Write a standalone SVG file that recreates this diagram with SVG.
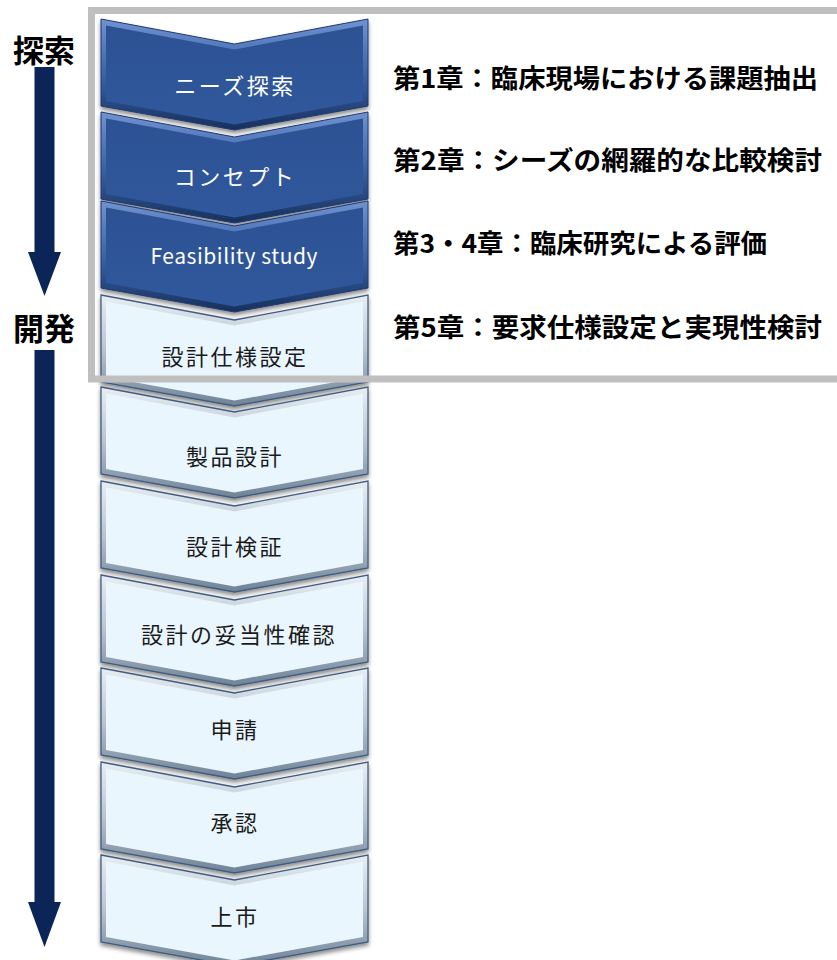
<svg xmlns="http://www.w3.org/2000/svg" xmlns:xlink="http://www.w3.org/1999/xlink" width="837" height="960" viewBox="0 0 837 960">
<style>
.lbl{font-family:"Noto Sans CJK JP","Noto Sans",sans-serif;font-size:22px;letter-spacing:2.5px;text-anchor:middle}
.w{fill:#ffffff}
.d{fill:#1a1a1a}
.ch{font-family:"Noto Sans CJK JP",sans-serif;font-weight:bold;font-size:26px;fill:#000}
.side{font-family:"Noto Sans CJK JP",sans-serif;font-weight:bold;font-size:31px;fill:#000}
.arr{fill:#0B2558}
</style>
<defs>
<linearGradient id="gBlueEdge" x1="0" y1="0" x2="0" y2="1">
<stop offset="0" stop-color="#7092D0"/>
<stop offset="0.5" stop-color="#3A63A8"/>
<stop offset="1" stop-color="#17305C"/>
</linearGradient>
<linearGradient id="gBlueIn" x1="0" y1="0" x2="0" y2="1">
<stop offset="0" stop-color="#2C5294"/>
<stop offset="1" stop-color="#30589C"/>
</linearGradient>
<linearGradient id="gLightEdge" x1="0" y1="0" x2="0" y2="1">
<stop offset="0" stop-color="#E8EEF3"/>
<stop offset="0.5" stop-color="#B7C3CE"/>
<stop offset="1" stop-color="#6F8296"/>
</linearGradient>
<filter id="sh" x="-10%" y="-10%" width="120%" height="130%">
<feDropShadow dx="0" dy="3" stdDeviation="2" flood-color="#000" flood-opacity="0.45"/>
</filter>
<path id="outer" d="M101,0 L234.5,25 L368,0 L368,87 L234.5,111 L101,87 Z"/>
<path id="inner" d="M106,6.5 L234.5,30.5 L363,6.5 L363,82 L234.5,105.5 L106,82 Z"/>
</defs>
<rect width="837" height="960" fill="#ffffff"/>

<g id="connectors">
<g id="arrow-explore">
<rect class="arr" x="34.5" y="67" width="20" height="186"/>
<polygon class="arr" points="28,252 61,252 44.5,296"/>
</g>
<g id="arrow-develop">
<rect class="arr" x="34.5" y="350" width="20" height="553"/>
<polygon class="arr" points="28,902 61,902 44.5,947"/>
</g>
</g>

<g id="label-explore"><text class="side" x="13" y="62">探索</text></g>
<g id="label-develop"><text class="side" x="13" y="340">開発</text></g>

<g id="node-needs" transform="translate(0,19)">
<use xlink:href="#outer" fill="url(#gBlueEdge)" stroke="#1E3A6E" stroke-width="1" filter="url(#sh)"/>
<use xlink:href="#inner" fill="url(#gBlueIn)"/>
<text class="lbl w" x="235" y="75">ニーズ探索</text>
</g>
<g id="node-concept" transform="translate(0,112)">
<use xlink:href="#outer" fill="url(#gBlueEdge)" stroke="#1E3A6E" stroke-width="1" filter="url(#sh)"/>
<use xlink:href="#inner" fill="url(#gBlueIn)"/>
<text class="lbl w" x="235" y="73">コンセプト</text>
</g>
<g id="node-feasibility" transform="translate(0,201)">
<use xlink:href="#outer" fill="url(#gBlueEdge)" stroke="#1E3A6E" stroke-width="1" filter="url(#sh)"/>
<use xlink:href="#inner" fill="url(#gBlueIn)"/>
<text class="lbl w" x="234" y="63" style="letter-spacing:0;font-size:21px" textLength="167" lengthAdjust="spacing">Feasibility study</text>
</g>
<g id="node-spec" transform="translate(0,295)">
<use xlink:href="#outer" fill="url(#gLightEdge)" stroke="#3F5C80" stroke-width="1.3" filter="url(#sh)"/>
<use xlink:href="#inner" fill="#EAF6FE"/>
<text class="lbl d" x="235" y="70">設計仕様設定</text>
</g>
<g id="node-design" transform="translate(0,387)">
<use xlink:href="#outer" fill="url(#gLightEdge)" stroke="#3F5C80" stroke-width="1.3" filter="url(#sh)"/>
<use xlink:href="#inner" fill="#EAF6FE"/>
<text class="lbl d" x="235" y="78">製品設計</text>
</g>
<g id="node-verify" transform="translate(0,481)">
<use xlink:href="#outer" fill="url(#gLightEdge)" stroke="#3F5C80" stroke-width="1.3" filter="url(#sh)"/>
<use xlink:href="#inner" fill="#EAF6FE"/>
<text class="lbl d" x="235" y="74">設計検証</text>
</g>
<g id="node-validate" transform="translate(0,575)">
<use xlink:href="#outer" fill="url(#gLightEdge)" stroke="#3F5C80" stroke-width="1.3" filter="url(#sh)"/>
<use xlink:href="#inner" fill="#EAF6FE"/>
<text class="lbl d" x="239" y="68">設計の妥当性確認</text>
</g>
<g id="node-apply" transform="translate(0,668)">
<use xlink:href="#outer" fill="url(#gLightEdge)" stroke="#3F5C80" stroke-width="1.3" filter="url(#sh)"/>
<use xlink:href="#inner" fill="#EAF6FE"/>
<text class="lbl d" x="235" y="70">申請</text>
</g>
<g id="node-approve" transform="translate(0,762)">
<use xlink:href="#outer" fill="url(#gLightEdge)" stroke="#3F5C80" stroke-width="1.3" filter="url(#sh)"/>
<use xlink:href="#inner" fill="#EAF6FE"/>
<text class="lbl d" x="235" y="69">承認</text>
</g>
<g id="node-launch" transform="translate(0,855)">
<use xlink:href="#outer" fill="url(#gLightEdge)" stroke="#3F5C80" stroke-width="1.3" filter="url(#sh)"/>
<use xlink:href="#inner" fill="#EAF6FE"/>
<text class="lbl d" x="235" y="70">上市</text>
</g>

<g id="research-box">
<rect x="91.5" y="10.5" width="760" height="368.5" fill="none" stroke="#BFBFBF" stroke-width="7"/>
</g>

<g id="chapters">
<text class="ch" x="393" y="88" textLength="425" lengthAdjust="spacingAndGlyphs">第1章：臨床現場における課題抽出</text>
<text class="ch" x="393" y="170" textLength="429" lengthAdjust="spacingAndGlyphs">第2章：シーズの網羅的な比較検討</text>
<text class="ch" x="393" y="253" textLength="374" lengthAdjust="spacingAndGlyphs">第3・4章：臨床研究による評価</text>
<text class="ch" x="393" y="337" textLength="429" lengthAdjust="spacingAndGlyphs">第5章：要求仕様設定と実現性検討</text>
</g>
</svg>
